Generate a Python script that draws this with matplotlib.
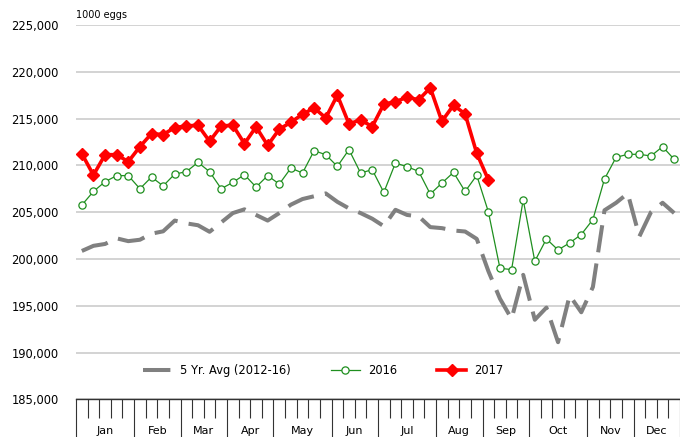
import numpy as np
import matplotlib
matplotlib.use("Agg")
import matplotlib.pyplot as plt
import matplotlib.transforms as mtransforms
from matplotlib.ticker import FuncFormatter

months = ["Jan", "Feb", "Mar", "Apr", "May", "Jun",
          "Jul", "Aug", "Sep", "Oct", "Nov", "Dec"]
weeks_per_month = [5, 4, 4, 4, 5, 4, 5, 4, 4, 5, 4, 4]

# weekly table egg production, 1000 eggs
avg_5yr = [200850, 201400, 201600, 202200, 201900, 202050, 202700, 202950,
           204100, 203800, 203600, 202900, 203900, 204900, 205300, 204700,
           204100, 204900, 205800, 206400, 206700, 207000, 206100, 205400,
           204900, 204300, 203500, 205250, 204700, 204550, 203400, 203290,
           203040, 202930, 202140, 198700, 195750, 193600, 198300, 193500,
           194800, 191100, 196100, 194300, 197000, 205200, 206000, 207000,
           202400, 205000, 206000, 204900]
y2016 = [205750, 207214, 208250, 208900, 208900, 207500, 208750, 207800,
         209070, 209320, 210320, 209320, 207500, 208180, 209000, 207680,
         208900, 208000, 209710, 209180, 211570, 211140, 209890, 211680,
         209180, 209540, 207110, 210250, 209860, 209360, 206930, 208110,
         209250, 207210, 208930, 205040, 199000, 198860, 206320, 199750,
         202140, 200960, 201710, 202610, 204210, 208540, 210860, 211180,
         211180, 211000, 212000, 210640]
y2017 = [211250, 208960, 211140, 211140, 210390, 212000, 213390, 213290,
         214040, 214210, 214290, 212570, 214210, 214290, 212320, 214110,
         212140, 213860, 214610, 215460, 216140, 215070, 217500, 214430,
         214860, 214140, 216540, 216790, 217290, 217000, 218290, 214710,
         216430, 215500, 211290, 208460]

plt.rcParams["font.family"] = "DejaVu Sans"

fig = plt.figure(figsize=(6.8, 4.37), dpi=100)
ax = fig.add_axes([0.1118, 0.0863, 0.8882, 0.8565])

x_avg = np.arange(len(avg_5yr)) + 0.5
x16 = np.arange(len(y2016)) + 0.5
x17 = np.arange(len(y2017)) + 0.5

ax.plot(x_avg, avg_5yr, color="#808080", lw=2.9, dashes=(6.8, 2.8),
        dash_capstyle="butt", label="5 Yr. Avg (2012-16)", zorder=3)
ax.plot(x16, y2016, color="#1f8f1f", lw=0.9, marker="o", ms=5.2,
        mfc="white", mec="#1f8f1f", mew=0.9, label="2016", zorder=4)
ax.plot(x17, y2017, color="#ff0000", lw=2.6, marker="D", ms=6,
        mfc="#ff0000", mec="#ff0000", label="2017", zorder=5)

ax.set_xlim(0, 52)
ax.set_ylim(185000, 225000)
ax.set_yticks(np.arange(185000, 225001, 5000))
ax.yaxis.set_major_formatter(FuncFormatter(lambda v, p: f"{int(v):,}"))
ax.tick_params(axis="y", length=0, pad=12.5, labelsize=8.3, labelcolor="black")
ax.grid(axis="y", color="#d0d0d0", lw=1.3)
ax.set_axisbelow(True)

for s in ["left", "right", "top"]:
    ax.spines[s].set_visible(False)
ax.spines["bottom"].set_color("#333333")
ax.spines["bottom"].set_linewidth(1.0)

bounds = np.concatenate([[0], np.cumsum(weeks_per_month)])
ax.set_xticks(bounds)
ax.set_xticklabels([])
ax.set_xticks(np.arange(0, 53), minor=True)
ax.tick_params(axis="x", which="major", direction="out", length=30,
               width=0.8, color="#333333")
ax.tick_params(axis="x", which="minor", direction="out", length=13.5,
               width=0.8, color="#333333")

trans = mtransforms.blended_transform_factory(ax.transData, ax.transAxes)
centers = (bounds[:-1] + bounds[1:]) / 2
for c, m in zip(centers, months):
    ax.text(c, -0.085, m, transform=trans, ha="center", va="center",
            fontsize=8, color="black")

ax.text(0, 1.027, "1000 eggs", transform=ax.transAxes, ha="left",
        va="center", fontsize=7, color="black")

ax.legend(loc="center left", bbox_to_anchor=(0.111, 0.078), ncol=3,
          frameon=False, fontsize=8.3, borderpad=0, handlelength=2.5,
          handletextpad=0.7, columnspacing=3.5, borderaxespad=0)

fig.savefig("out.png", dpi=100)
